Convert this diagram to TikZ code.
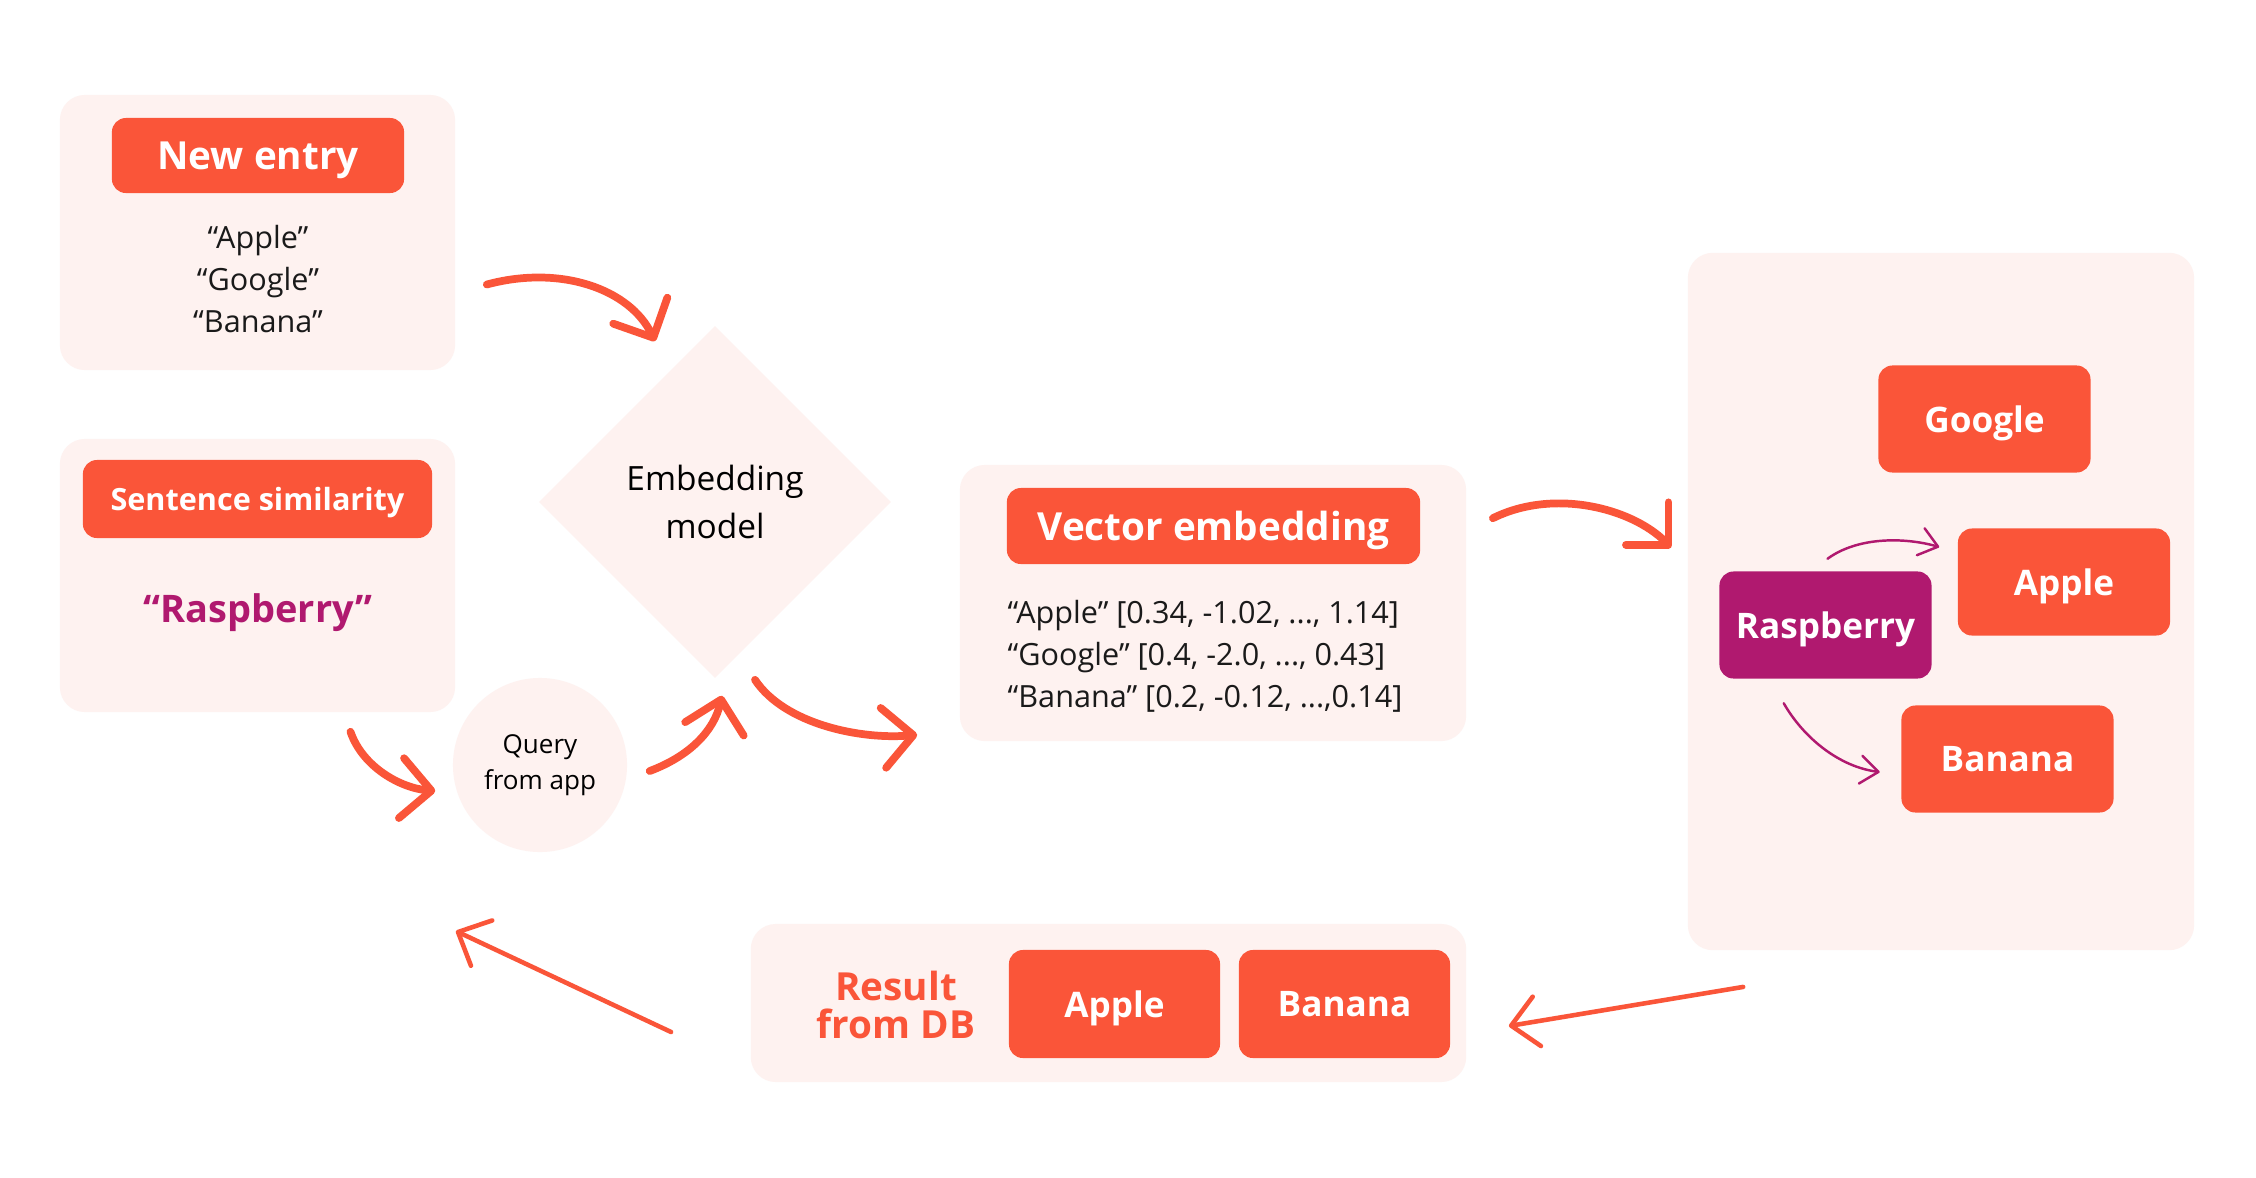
\documentclass[tikz,border=0pt]{standalone}
\usepackage{fontspec}
\setmainfont{Open Sans}
\usetikzlibrary{positioning,arrows.meta,shapes.geometric,calc}
\definecolor{tomato}{HTML}{FA5539}
\definecolor{blush}{HTML}{FEF2F0}
\definecolor{berry}{HTML}{B0196F}
\definecolor{ink}{HTML}{1A1A1A}

\begin{document}
\begin{tikzpicture}[
  x=0.01cm, y=-0.01cm,
  panel/.style={fill=blush, rounded corners=0.25cm, inner sep=0pt},
  tag/.style={fill=tomato, text=white, rounded corners=0.14cm, inner sep=0pt, text depth=0pt, font=\bfseries\fontsize{11}{13}\selectfont},
  word/.style={tag, minimum width=2.12cm, minimum height=1.07cm, font=\bfseries\fontsize{10}{12}\selectfont},
  body/.style={text=ink, align=center, inner sep=0pt, font=\fontsize{8.7}{12}\selectfont},
  flow/.style={-{Straight Barb[length=3mm, width=6mm, round]}, line width=2.2pt, tomato, line cap=round},
  back/.style={-{Straight Barb[length=2.6mm, width=5mm, round]}, line width=1.3pt, tomato, line cap=round},
  near/.style={-{Straight Barb[length=1.8mm, width=2.8mm, round]}, line width=0.7pt, berry, line cap=round}
]
\path[use as bounding box, fill=white] (0,0) rectangle (2256,1178);
% ---------- inputs ----------
\node[panel, minimum width=3.95cm, minimum height=2.75cm] (newpanel) at (257.5,232.5) {};
\node[tag, minimum width=2.92cm, minimum height=0.75cm] (newtag) at (258,155.5) {New entry};
\node[body] (entries) at (258,279) {“Apple”\\“Google”\\“Banana”};
\node[panel, minimum width=3.95cm, minimum height=2.73cm] (simpanel) at (257.5,575.5) {};
\node[tag, minimum width=3.49cm, minimum height=0.78cm, font=\bfseries\fontsize{8.7}{10}\selectfont] (simtag) at (257.5,499) {Sentence similarity};
\node[text=berry, font=\bfseries\fontsize{10.8}{13}\selectfont] (rasptext) at (258,613) {“Raspberry”};
% ---------- model and query ----------
\node[diamond, fill=blush, aspect=1, minimum width=3.52cm, minimum height=3.52cm, inner sep=0pt, align=center, font=\fontsize{9.5}{13.7}\selectfont] (model) at (715,502) {Embedding\\model};
\node[circle, fill=blush, minimum size=1.74cm, inner sep=0pt, align=center, font=\fontsize{7.4}{10.2}\selectfont] (query) at (540,765) {Query\\from app};
% ---------- vectors ----------
\node[panel, minimum width=5.06cm, minimum height=2.76cm] (vecpanel) at (1213,603) {};
\node[tag, minimum width=4.13cm, minimum height=0.76cm] (vectag) at (1213.5,526) {Vector embedding};
\node[body, align=left, anchor=west] (vectors) at (1007,656) {“Apple” [0.34, -1.02, ..., 1.14]\\“Google” [0.4, -2.0, ..., 0.43]\\“Banana” [0.2, -0.12, ...,0.14]};
% ---------- vector space ----------
\node[panel, minimum width=5.06cm, minimum height=6.97cm] (space) at (1941,601.5) {};
\node[word] (google) at (1984.5,419) {Google};
\node[word] (apple) at (2064,582) {Apple};
\node[word, fill=berry] (rasp) at (1825.5,625) {Raspberry};
\node[word] (banana) at (2007.5,759) {Banana};
% ---------- result ----------
\node[panel, minimum width=7.15cm, minimum height=1.58cm] (respanel) at (1108.5,1003) {};
\node[text=tomato, align=center, font=\bfseries\fontsize{11}{11}\selectfont] (restext) at (896,1005) {Result\\from DB};
\node[word, minimum width=2.11cm, minimum height=1.08cm] (resapple) at (1114.5,1004) {Apple};
\node[word, minimum width=2.11cm, minimum height=1.08cm] (resbanana) at (1344.5,1004) {Banana};
% ---------- arrows ----------
\draw[flow] ($(newpanel.east)+(31,52)$) .. controls +(74,-20) and +(-25,-52) .. ($(model.north)+(-60,16)$);
\draw[flow] ($(simpanel.south)+(93,19)$) .. controls +(12,35) and +(-35,-3) .. ($(query.west)+(-17,26)$);
\draw[flow] ($(query.east)+(22,6)$) .. controls +(40,-15) and +(-8,35) .. ($(model.south)+(7,17)$);
\draw[flow] ($(model.south)+(40,1)$) .. controls +(30,45) and +(-55,5) .. ($(vecpanel.south west)+(-42,-7)$);
\draw[flow] ($(vecpanel.north east)+(26,54)$) .. controls +(60,-30) and +(-40,-40) .. ($(space.west)+(-16,-54)$);
\draw[back] ($(space.south west)+(56,36)$) -- ($(respanel.east)+(42,23)$);
\draw[back] ($(respanel.west)+(-79,29)$) -- ($(query.south west)+(-22,104)$);
\draw[near] ($(rasp.north)+(2,-12)$) .. controls +(30,-22) and +(-35,-10) .. ($(apple.west)+(-18,-35)$);
\draw[near] ($(rasp.south west)+(65,24)$) .. controls +(20,35) and +(-40,-5) .. ($(banana.west)+(-21,13)$);
\end{tikzpicture}
\end{document}
